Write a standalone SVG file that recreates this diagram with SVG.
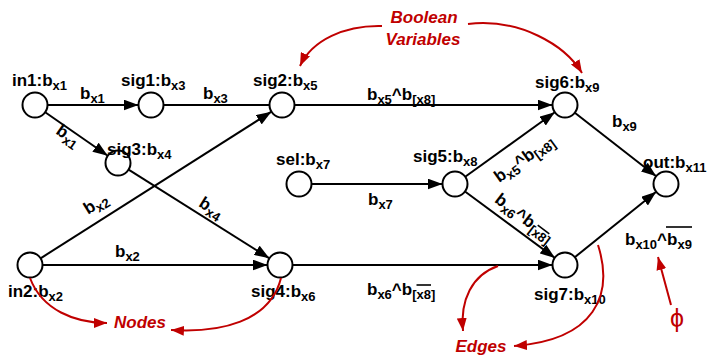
<svg xmlns="http://www.w3.org/2000/svg" width="710" height="357" viewBox="0 0 710 357">
<style>
.node circle{fill:#fff;stroke:#000;stroke-width:2}
.lbl{font-family:"Liberation Sans",Arial,sans-serif;font-weight:bold;font-size:17px;fill:#000}
.sub{font-size:13px}
.edge{stroke:#000;stroke-width:2;fill:none}
.bar{stroke:#000;stroke-width:1.6}
.ann{stroke:#c00000;stroke-width:2;fill:none}
.atext{font-family:"Liberation Sans",Arial,sans-serif;font-weight:bold;font-style:italic;font-size:17px;fill:#c00000}
</style>
<defs>
<marker id="ah" markerUnits="userSpaceOnUse" markerWidth="15" markerHeight="11" refX="15" refY="5.5" orient="auto">
<path d="M0,0 L15,5.5 L0,11 z" fill="#000"/>
</marker>
<marker id="ar" markerUnits="userSpaceOnUse" markerWidth="13" markerHeight="10" refX="13" refY="5" orient="auto">
<path d="M0,0 L13,5 L0,10 z" fill="#c00000"/>
</marker>
</defs>

<g id="connectors">
<line class="edge" x1="47.5" y1="105" x2="138.5" y2="105" marker-end="url(#ah)"/>
<line class="edge" x1="45.2" y1="112.2" x2="107.8" y2="155.8" marker-end="url(#ah)"/>
<line class="edge" x1="163.5" y1="105" x2="269.5" y2="105"/>
<line class="edge" x1="40.6" y1="258.3" x2="271.4" y2="111.7" marker-end="url(#ah)"/>
<line class="edge" x1="128.6" y1="169.7" x2="269.4" y2="258.3" marker-end="url(#ah)"/>
<line class="edge" x1="42.5" y1="265" x2="267.5" y2="265" marker-end="url(#ah)"/>
<line class="edge" x1="294.5" y1="105" x2="552.5" y2="105" marker-end="url(#ah)"/>
<line class="edge" x1="311.5" y1="184" x2="442.5" y2="184" marker-end="url(#ah)"/>
<line class="edge" x1="465.2" y1="176.7" x2="554.8" y2="112.3" marker-end="url(#ah)"/>
<line class="edge" x1="465" y1="191.5" x2="555" y2="258" marker-end="url(#ah)"/>
<line class="edge" x1="292.5" y1="265" x2="552.5" y2="265" marker-end="url(#ah)"/>
<line class="edge" x1="574.8" y1="112.7" x2="656.2" y2="176.3" marker-end="url(#ah)"/>
<line class="edge" x1="574.8" y1="257.2" x2="656.2" y2="191.8" marker-end="url(#ah)"/>

<text class="lbl" x="80" y="99">b<tspan class="sub" dy="4">x1</tspan></text>
<text class="lbl" x="203" y="99">b<tspan class="sub" dy="4">x3</tspan></text>
<text class="lbl" x="367" y="100">b<tspan class="sub" dy="4">x5</tspan><tspan dy="-4">^b</tspan><tspan class="sub" dy="4">[x8]</tspan></text>
<text class="lbl" x="368" y="205">b<tspan class="sub" dy="4">x7</tspan></text>
<text class="lbl" x="115" y="257">b<tspan class="sub" dy="4">x2</tspan></text>
<text class="lbl" x="367" y="295">b<tspan class="sub" dy="4">x6</tspan><tspan dy="-4">^b</tspan><tspan class="sub" dy="4">[x8]</tspan></text>
<line class="bar" x1="416.5" y1="285" x2="431" y2="285"/>
<text class="lbl" x="612" y="127">b<tspan class="sub" dy="4">x9</tspan></text>
<text class="lbl" x="625" y="245">b<tspan class="sub" dy="4">x10</tspan><tspan dy="-4">^b</tspan><tspan class="sub" dy="4">x9</tspan></text>
<line class="bar" x1="666" y1="227" x2="692" y2="227"/>

<g transform="translate(68,136) rotate(35)"><text class="lbl" x="0" y="5" text-anchor="middle">b<tspan class="sub" dy="4">x1</tspan></text></g>
<g transform="translate(96,204) rotate(-32)"><text class="lbl" x="0" y="5" text-anchor="middle">b<tspan class="sub" dy="4">x2</tspan></text></g>
<g transform="translate(211,208) rotate(32)"><text class="lbl" x="0" y="5" text-anchor="middle">b<tspan class="sub" dy="4">x4</tspan></text></g>
<g transform="translate(524,159) rotate(-36)"><text class="lbl" x="0" y="5" text-anchor="middle">b<tspan class="sub" dy="4">x5</tspan><tspan dy="-4">^b</tspan><tspan class="sub" dy="4">[x8]</tspan></text></g>
<g transform="translate(524,218) rotate(37)"><text class="lbl" x="0" y="5" text-anchor="middle">b<tspan class="sub" dy="4">x6</tspan><tspan dy="-4">^b</tspan><tspan class="sub" dy="4">[x8]</tspan></text><line class="bar" x1="15.3" y1="-2.5" x2="29.8" y2="-2.5"/></g>
</g>

<g id="in1" class="node"><circle cx="35" cy="105" r="12.5"/><text class="lbl" x="12" y="86">in1:b<tspan class="sub" dy="4">x1</tspan></text></g>
<g id="sig1" class="node"><circle cx="151" cy="105" r="12.5"/><text class="lbl" x="121" y="86">sig1:b<tspan class="sub" dy="4">x3</tspan></text></g>
<g id="sig3" class="node"><circle cx="118" cy="163" r="12.5"/><text class="lbl" x="107" y="155">sig3:b<tspan class="sub" dy="4">x4</tspan></text></g>
<g id="sig2" class="node"><circle cx="282" cy="105" r="12.5"/><text class="lbl" x="253" y="86">sig2:b<tspan class="sub" dy="4">x5</tspan></text></g>
<g id="sel" class="node"><circle cx="299" cy="184" r="12.5"/><text class="lbl" x="276" y="165">sel:b<tspan class="sub" dy="4">x7</tspan></text></g>
<g id="sig5" class="node"><circle cx="455" cy="184" r="12.5"/><text class="lbl" x="413" y="162">sig5:b<tspan class="sub" dy="4">x8</tspan></text></g>
<g id="sig6" class="node"><circle cx="565" cy="105" r="12.5"/><text class="lbl" x="535" y="88">sig6:b<tspan class="sub" dy="4">x9</tspan></text></g>
<g id="out" class="node"><circle cx="666" cy="184" r="12.5"/><text class="lbl" x="643" y="168">out:b<tspan class="sub" dy="4">x11</tspan></text></g>
<g id="in2" class="node"><circle cx="30" cy="265" r="12.5"/><text class="lbl" x="8" y="297">in2:b<tspan class="sub" dy="4">x2</tspan></text></g>
<g id="sig4" class="node"><circle cx="280" cy="265" r="12.5"/><text class="lbl" x="251" y="297">sig4:b<tspan class="sub" dy="4">x6</tspan></text></g>
<g id="sig7" class="node"><circle cx="565" cy="265" r="12.5"/><text class="lbl" x="534" y="300">sig7:b<tspan class="sub" dy="4">x10</tspan></text></g>

<g id="annotations">
<text class="atext" x="424" y="23" text-anchor="middle">Boolean</text>
<text class="atext" x="423" y="45" text-anchor="middle">Variables</text>
<path class="ann" d="M382,26 C345,25 312,40 300,66" marker-end="url(#ar)"/>
<path class="ann" d="M468,24 C520,18 565,45 582,73" marker-end="url(#ar)"/>
<text class="atext" x="140" y="328" text-anchor="middle">Nodes</text>
<path class="ann" d="M30,278 C42,310 75,323 107,323" marker-end="url(#ar)"/>
<path class="ann" d="M281,278 C270,322 220,333 171,330" marker-end="url(#ar)"/>
<text class="atext" x="481" y="352" text-anchor="middle">Edges</text>
<path class="ann" d="M498,266 C472,275 460,300 463,331" marker-end="url(#ar)"/>
<path class="ann" d="M598,245 C614,295 595,340 514,346" marker-end="url(#ar)"/>
<path class="ann" d="M671,305 L658,257" marker-end="url(#ar)"/>
<text x="677" y="327" text-anchor="middle" style="font-family:'Liberation Sans',Arial,sans-serif;font-size:25px;fill:#c00000">ϕ</text>
</g>
</svg>
